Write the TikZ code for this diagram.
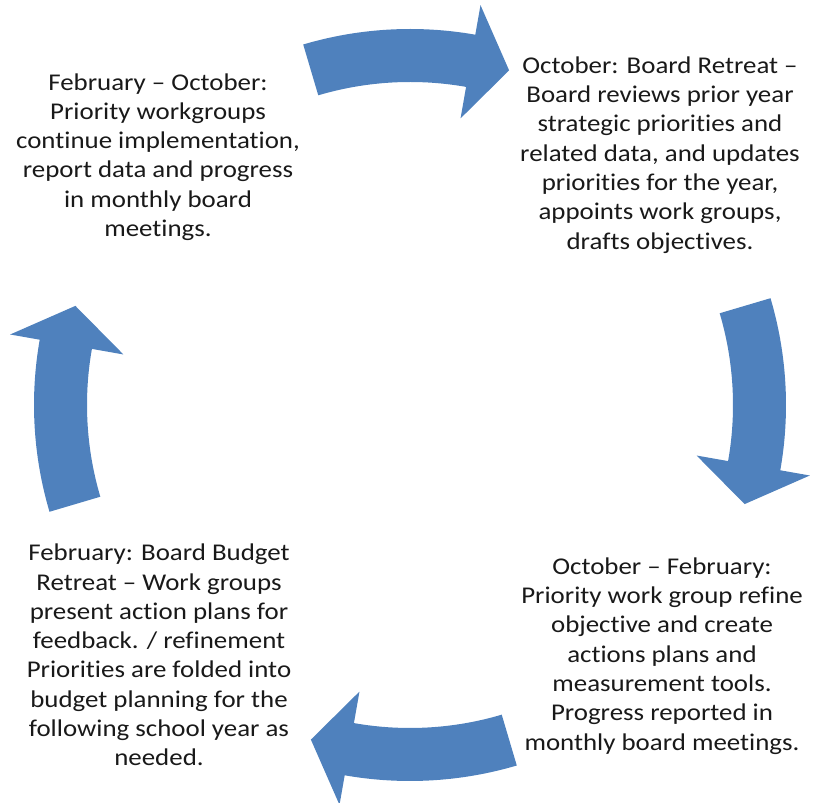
\documentclass[tikz,border=0pt]{standalone}
\usepackage{fontspec}
\setmainfont{Carlito}[FakeStretch=1.12,Ligatures=NoCommon]

\definecolor{cycleblue}{HTML}{4F81BD}
\tikzset{
  phase/.style={align=center,text=black!90,
    font=\fontsize{20.5}{25}\selectfont},
  cyclearrow/.style={fill=cycleblue}
}

\begin{document}
\begin{tikzpicture}[x=0.3mm,y=0.3mm]
      \useasboundingbox (0,0) rectangle (817,803);

      \node[phase] (febOct) at (158,646) {February – October:\\Priority workgroups\\continue implementation,\\report data and progress\\in monthly board\\meetings.};
      \node[phase] (octRetreat) at (660,648) {October: Board Retreat –\\Board reviews prior year\\strategic priorities and\\related data, and updates\\priorities for the year,\\appoints work groups,\\drafts objectives.};
      \node[phase] (octFeb) at (662,147) {October – February:\\Priority work group refine\\objective and create\\actions plans and\\measurement tools.\\Progress reported in\\monthly board meetings.};
      \node[phase] (febRetreat) at (159,148) {February:  Board Budget\\Retreat – Work groups\\present action plans for\\feedback. / refinement\\Priorities are folded into\\budget planning for the\\following school year as\\needed.};

      %% curved block arrows round the cycle
      \begin{scope}[shift={(410,398)}]
        \foreach \a [evaluate=\a as \t using \a+16.5,
                     evaluate=\a as \b using \a-10,
                     evaluate=\a as \p using \a-16.5] in {90,0,-90,180} {
          \fill[cyclearrow] (\t:376) arc[start angle=\t, end angle=\b, radius=376]
            -- (\b:406) -- (\p:349) -- (\b:291) -- (\b:323)
            arc[start angle=\b, end angle=\t, radius=323] -- cycle;
        }
      \end{scope}
    \end{tikzpicture}
\end{document}
